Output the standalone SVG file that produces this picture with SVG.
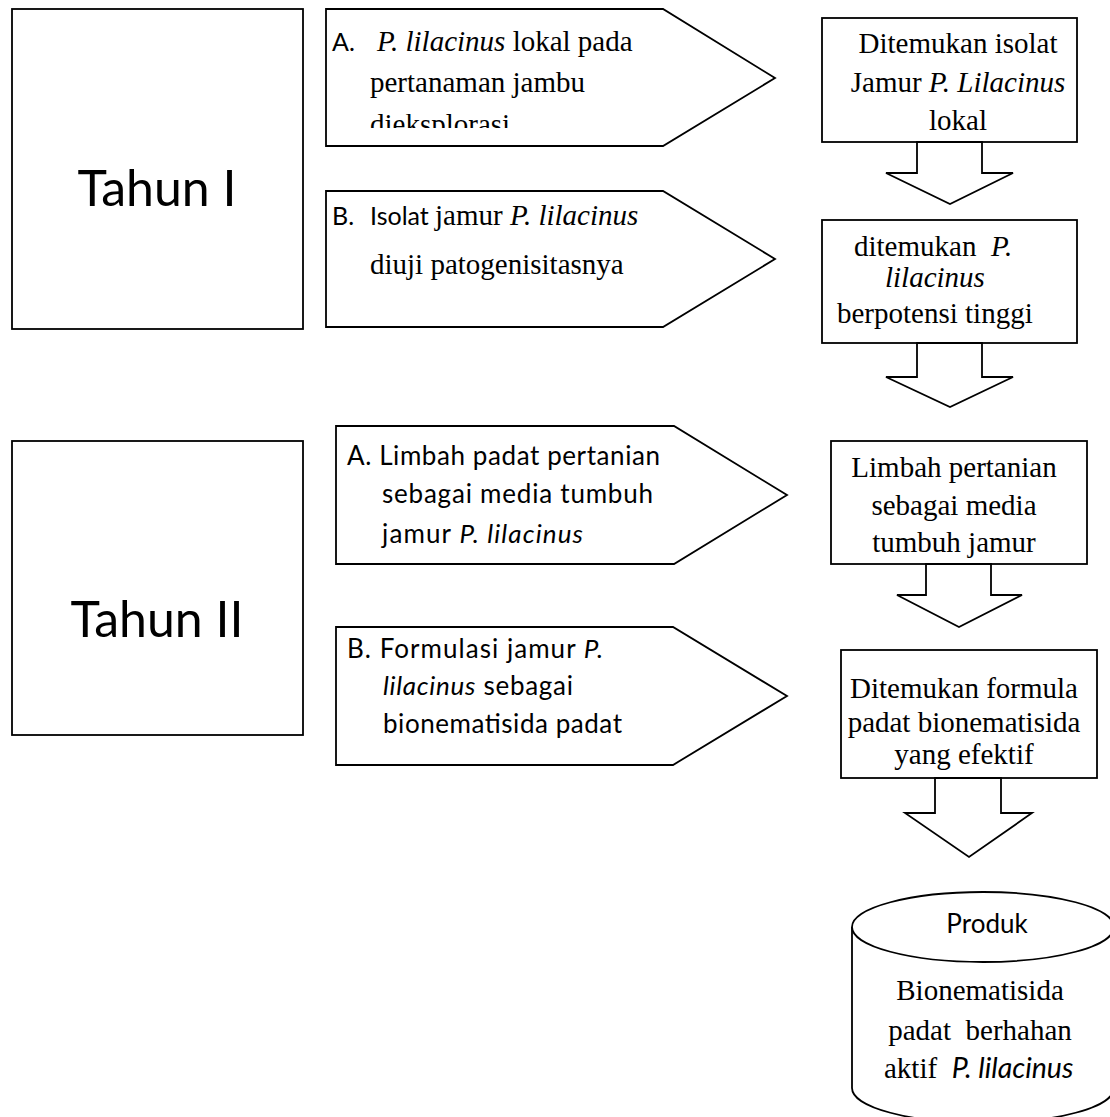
<svg xmlns="http://www.w3.org/2000/svg" width="1110" height="1117" viewBox="0 0 1110 1117">
<style>
.shape{fill:#fff;stroke:#000;stroke-width:1.8;stroke-linejoin:miter}
.serif{font-family:"Liberation Serif","Times New Roman",serif;font-size:29px;fill:#000}
.sans{font-family:Lato,"Open Sans",sans-serif;font-size:26px;fill:#000}
.big{font-family:Lato,"Open Sans",sans-serif;font-size:50px;fill:#000}
.it{font-style:italic}
.mid{text-anchor:middle}
text{white-space:pre}
</style>
<defs>
<clipPath id="clipA1"><rect x="326" y="9" width="340" height="119"/></clipPath>
</defs>
<rect width="1110" height="1117" fill="#fff"/>

<g id="tahun1">
<rect class="shape" x="12" y="9" width="291" height="320"/>
<text class="big mid" x="157" y="206">Tahun I</text>
</g>

<g id="tahun2">
<rect class="shape" x="12" y="441" width="291" height="294"/>
<text class="big mid" x="157" y="637">Tahun II</text>
</g>

<g id="arrow1a">
<polygon class="shape" points="326,9 663,9 775,78 663,146 326,146"/>
<text class="sans" x="332" y="51" style="font-size:25px">A.</text>
<g clip-path="url(#clipA1)">
<text class="serif" x="377" y="51"><tspan class="it">P. lilacinus</tspan> lokal pada</text>
<text class="serif" x="370" y="92">pertanaman jambu</text>
<text class="serif" x="370" y="134">dieksplorasi</text>
</g>
</g>

<g id="arrow1b">
<polygon class="shape" points="326,191 663,191 775,259 663,327 326,327"/>
<text class="sans" x="332" y="225" style="font-size:25px">B.</text>
<text class="sans" x="370" y="225" style="font-size:25px">Isolat</text>
<text class="serif" x="435" y="225">jamur <tspan class="it">P. lilacinus</tspan></text>
<text class="serif" x="370" y="274">diuji patogenisitasnya</text>
</g>

<g id="result1a">
<rect class="shape" x="822" y="18" width="255" height="124"/>
<text class="serif mid" x="958" y="53">Ditemukan isolat</text>
<text class="serif mid" x="958" y="92">Jamur <tspan class="it">P. Lilacinus</tspan></text>
<text class="serif mid" x="958" y="130">lokal</text>
</g>

<g id="result1b">
<rect class="shape" x="822" y="220" width="255" height="123"/>
<text class="serif" x="854" y="256">ditemukan  <tspan class="it">P.</tspan></text>
<text class="serif it" x="885" y="287">lilacinus</text>
<text class="serif" x="837" y="323">berpotensi tinggi</text>
</g>

<g id="arrow2a">
<polygon class="shape" points="336,426 674,426 787,495 674,564 336,564"/>
<text class="sans" x="347" y="465" textLength="313">A. Limbah padat pertanian</text>
<text class="sans" x="382" y="503" textLength="271">sebagai media tumbuh</text>
<text class="sans" x="382" y="543" textLength="201">jamur <tspan class="it">P. lilacinus</tspan></text>
</g>

<g id="arrow2b">
<polygon class="shape" points="336,627 673,627 787,696 673,765 336,765"/>
<text class="sans" x="347" y="658" textLength="256">B. Formulasi jamur <tspan class="it">P.</tspan></text>
<text class="sans" x="383" y="695" textLength="190"><tspan class="it">lilacinus</tspan> sebagai</text>
<text class="sans" x="383" y="733" textLength="239">bionematisida padat</text>
</g>

<g id="result2a">
<rect class="shape" x="831" y="441" width="256" height="123"/>
<text class="serif mid" x="954" y="477">Limbah pertanian</text>
<text class="serif mid" x="954" y="515">sebagai media</text>
<text class="serif mid" x="954" y="552">tumbuh jamur</text>
</g>

<g id="result2b">
<rect class="shape" x="841" y="650" width="256" height="128"/>
<text class="serif mid" x="964" y="698">Ditemukan formula</text>
<text class="serif mid" x="964" y="732">padat bionematisida</text>
<text class="serif mid" x="964" y="764">yang efektif</text>
</g>

<g id="produk">
<path class="shape" d="M852,927 L852,1088 A131,35 0 0 0 1114,1088 L1114,927"/>
<ellipse class="shape" cx="983" cy="927" rx="131" ry="35"/>
<text class="sans mid" x="987" y="933">Produk</text>
<text class="serif mid" x="980" y="1000">Bionematisida</text>
<text class="serif mid" x="980" y="1040">padat  berhahan</text>
<text class="serif" x="884" y="1078">aktif  <tspan class="sans it" style="font-size:28.5px">P. lilacinus</tspan></text>
</g>

<g id="connectors">
<polygon class="shape" points="917,142 917,173 886,173 950,204 1013,173 982,173 982,142"/>
<polygon class="shape" points="917,343 917,377 886,377 950,407 1013,377 982,377 982,343"/>
<polygon class="shape" points="926,564 926,595 897,595 959,627 1022,595 991,595 991,564"/>
<polygon class="shape" points="935,778 935,813 905,813 969,857 1032,813 1001,813 1001,778"/>
</g>
</svg>
